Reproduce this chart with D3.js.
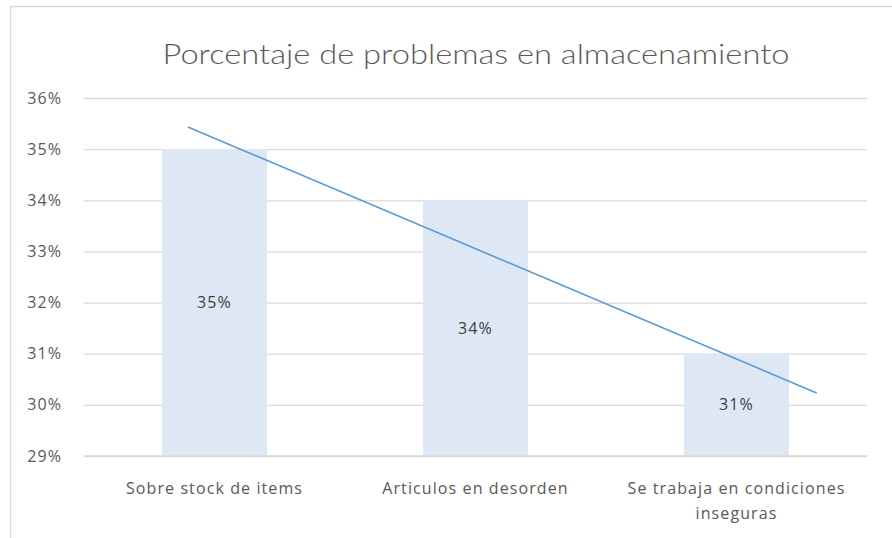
<!DOCTYPE html>
<html><head><meta charset="utf-8">
<script src="https://cdn.jsdelivr.net/npm/d3@7"></script>
<style>body{margin:0;background:#fff}svg{display:block}</style>
</head><body>
<script>
const categories = ["Sobre stock de items", "Articulos en desorden", "Se trabaja en condiciones inseguras"];
const values = [0.35, 0.34, 0.31];
const valueLabels = ["35%", "34%", "31%"];
const yTicks = [0.29, 0.30, 0.31, 0.32, 0.33, 0.34, 0.35, 0.36];
const trendIndex = [0.898, 3.307];
const trendValues = [0.35433, 0.30232];
const title = "Porcentaje de problemas en almacenamiento";

const W = 892, H = 538;
const svg = d3.select("body").append("svg").attr("width", W).attr("height", H);
const font = "'Open Sans', Lato, sans-serif";
const txt = "#595959";
const ls = "1.1px";

// outer frame
svg.append("rect").attr("x", 10.5).attr("y", 6.5).attr("width", W + 10).attr("height", H + 10)
  .attr("fill", "#fff").attr("stroke", "#D9D9D9").attr("stroke-width", 1.5);

const x = d3.scaleBand().domain(categories).range([84, 867]).paddingInner(0.598).paddingOuter(0.299);
const y = d3.scaleLinear().domain([0.29, 0.36]).range([456, 98]);
const xi = d3.scaleLinear().domain([1, 2]).range([x(categories[0]) + x.bandwidth() / 2, x(categories[1]) + x.bandwidth() / 2]);

// title
svg.append("text").attr("x", 476).attr("y", 64).attr("text-anchor", "middle")
  .attr("font-family", "Lato, sans-serif").attr("font-weight", 300).attr("font-size", 28).attr("fill", txt)
  .attr("textLength", 627).attr("lengthAdjust", "spacingAndGlyphs").text(title);

// gridlines + y axis
const yAxis = d3.axisLeft(y).tickValues(yTicks).tickFormat(d3.format(".0%")).tickSize(-(867 - 84)).tickPadding(22);
const gy = svg.append("g").attr("transform", "translate(84,0)").call(yAxis);
gy.select(".domain").remove();
gy.selectAll("line").attr("stroke", "#D9D9D9").attr("stroke-width", 1.3);
gy.selectAll("text").attr("font-family", font).attr("font-size", 16).attr("letter-spacing", ls).attr("fill", txt);

// bars
svg.append("g").selectAll("rect").data(values).join("rect")
  .attr("x", (d, i) => x(categories[i])).attr("width", x.bandwidth())
  .attr("y", d => y(d)).attr("height", d => y(0.29) - y(d))
  .attr("fill", "#DEE8F5");

// baseline over bars
svg.append("line").attr("x1", 84).attr("x2", 867).attr("y1", y(0.29)).attr("y2", y(0.29))
  .attr("stroke", "#D9D9D9").attr("stroke-width", 1.3);

// value labels
svg.append("g").selectAll("text").data(values).join("text")
  .attr("x", (d, i) => x(categories[i]) + x.bandwidth() / 2)
  .attr("y", d => y((d + 0.29) / 2)).attr("dy", "0.35em").attr("text-anchor", "middle")
  .attr("font-family", font).attr("font-size", 16).attr("letter-spacing", ls).attr("fill", "#404040")
  .text((d, i) => valueLabels[i]);

// trend line
const line = d3.line().x(d => xi(d[0])).y(d => y(d[1]));
svg.append("path").datum(trendIndex.map((t, i) => [t, trendValues[i]]))
  .attr("d", line).attr("fill", "none").attr("stroke", "#5B9BD5").attr("stroke-width", 1.6);

// category labels
const gx = svg.append("g");
categories.forEach((c, i) => {
  const cx = x(c) + x.bandwidth() / 2;
  const lines = c === "Se trabaja en condiciones inseguras" ? ["Se trabaja en condiciones", "inseguras"] : [c];
  lines.forEach((l, j) => {
    gx.append("text").attr("x", cx).attr("y", 494 + j * 25).attr("text-anchor", "middle")
      .attr("font-family", font).attr("font-size", 16).attr("letter-spacing", ls).attr("fill", txt).text(l);
  });
});
</script>
</body></html>
